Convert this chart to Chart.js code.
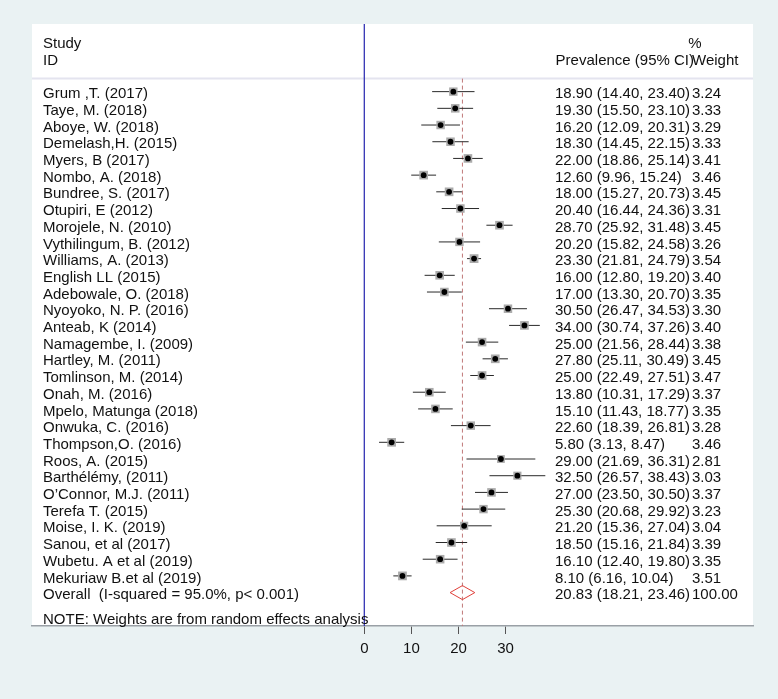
<!DOCTYPE html>
<html>
<head>
<meta charset="utf-8">
<script src="https://cdn.jsdelivr.net/npm/chart.js@4/dist/chart.umd.min.js"></script>
<style>
html,body{margin:0;padding:0;background:#eaf2f3;}
#wrap{width:778px;height:699px;}
</style>
</head>
<body>
<div id="wrap"><canvas id="c" width="778" height="699"></canvas></div>
<script>
const studies = ["Grum ,T. (2017)","Taye, M. (2018)","Aboye, W. (2018)","Demelash,H. (2015)","Myers, B (2017)","Nombo, A. (2018)","Bundree, S. (2017)","Otupiri, E (2012)","Morojele, N. (2010)","Vythilingum, B. (2012)","Williams, A. (2013)","English LL (2015)","Adebowale, O. (2018)","Nyoyoko, N. P. (2016)","Anteab, K (2014)","Namagembe, I. (2009)","Hartley, M. (2011)","Tomlinson, M. (2014)","Onah, M. (2016)","Mpelo, Matunga (2018)","Onwuka, C. (2016)","Thompson,O. (2016)","Roos, A. (2015)","Barthélémy, (2011)","O\u2019Connor, M.J. (2011)","Terefa T. (2015)","Moise, I. K. (2019)","Sanou, et al (2017)","Wubetu. A et al (2019)","Mekuriaw B.et al (2019)"];
const estimates = [18.90,19.30,16.20,18.30,22.00,12.60,18.00,20.40,28.70,20.20,23.30,16.00,17.00,30.50,34.00,25.00,27.80,25.00,13.80,15.10,22.60,5.80,29.00,32.50,27.00,25.30,21.20,18.50,16.10,8.10];
const lower = [14.40,15.50,12.09,14.45,18.86,9.96,15.27,16.44,25.92,15.82,21.81,12.80,13.30,26.47,30.74,21.56,25.11,22.49,10.31,11.43,18.39,3.13,21.69,26.57,23.50,20.68,15.36,15.16,12.40,6.16];
const upper = [23.40,23.10,20.31,22.15,25.14,15.24,20.73,24.36,31.48,24.58,24.79,19.20,20.70,34.53,37.26,28.44,30.49,27.51,17.29,18.77,26.81,8.47,36.31,38.43,30.50,29.92,27.04,21.84,19.80,10.04];
const weights = [3.24,3.33,3.29,3.33,3.41,3.46,3.45,3.31,3.45,3.26,3.54,3.40,3.35,3.30,3.40,3.38,3.45,3.47,3.37,3.35,3.28,3.46,2.81,3.03,3.37,3.23,3.04,3.39,3.35,3.51];
const overallLabel = "Overall  (I-squared = 95.0%, p< 0.001)";
const overallEst = 20.83, overallLo = 18.21, overallHi = 23.46, overallWeight = 100.00;
const xTicks = [0,10,20,30];
const headerLeft = ["Study","ID"];
const headerRight = ["%","Prevalence (95% CI)","Weight"];
const noteText = "NOTE: Weights are from random effects analysis";

const FONT = '15px "Liberation Sans", Arial, sans-serif';
const nRows = studies.length;           // overall row index = nRows
const rows = studies.map((s,i)=>i);

const ciDatasets = rows.map(i => ({
  type:'scatter', showLine:true, data:[{x:lower[i],y:i},{x:upper[i],y:i}],
  borderColor:'#2a2a2a', borderWidth:1, pointRadius:0, order:8
}));

const datasets = [
  { type:'scatter', showLine:true, data:[{x:0,y:-4.1},{x:0,y:32.1}], borderColor:'#3535b5', borderWidth:1.3, pointRadius:0, order:10 },
  { type:'scatter', showLine:true, data:[{x:overallEst,y:-0.78},{x:overallEst,y:32.1}], borderColor:'#c07878', borderWidth:1, borderDash:[4,3], pointRadius:0, order:9 },
  ...ciDatasets,
  { type:'scatter', data: rows.map(i=>({x:estimates[i],y:i})), pointStyle:'rect',
    pointRadius: rows.map(i=>3.3*Math.sqrt(weights[i])), backgroundColor:'#ababab', borderWidth:0, order:7 },
  { type:'scatter', data: rows.map(i=>({x:estimates[i],y:i})), pointStyle:'circle',
    pointRadius:2.9, backgroundColor:'#000', borderWidth:0, order:6 },
  { type:'scatter', showLine:true, data:[{x:overallLo,y:nRows},{x:overallEst,y:nRows-0.42},{x:overallHi,y:nRows},{x:overallEst,y:nRows+0.42},{x:overallLo,y:nRows}],
    borderColor:'#e0403a', borderWidth:1, pointRadius:0, fill:false, order:5 }
];

const bgPlugin = {
  id:'bg',
  beforeDraw(chart){
    const {ctx, chartArea:a, scales:{y}} = chart;
    ctx.save();
    ctx.fillStyle = '#eaf2f3';
    ctx.fillRect(0,0,chart.width,chart.height);
    ctx.fillStyle = '#ffffff';
    ctx.fillRect(a.left,a.top,a.right-a.left,a.bottom-a.top);
    const sy = y.getPixelForValue(-0.78);
    ctx.strokeStyle = '#e4e4ef';
    ctx.lineWidth = 2;
    ctx.beginPath(); ctx.moveTo(a.left,sy); ctx.lineTo(a.right,sy); ctx.stroke();
    ctx.restore();
  }
};

const textPlugin = {
  id:'texts',
  afterDraw(chart){
    const {ctx, chartArea:a, scales:{y}} = chart;
    const off = 2.5;
    const xL = a.left + 11, xCI = 555, xW = 692;
    ctx.save();
    ctx.font = FONT;
    ctx.fillStyle = '#111';
    ctx.textBaseline = 'middle';
    ctx.textAlign = 'left';
    ctx.fillText(headerLeft[0], xL, y.getPixelForValue(-3)+off);
    ctx.fillText(headerLeft[1], xL, y.getPixelForValue(-2)+off);
    ctx.textAlign = 'center';
    ctx.fillText(headerRight[0], 695, y.getPixelForValue(-3)+off);
    ctx.textAlign = 'right';
    ctx.fillText(headerRight[1], 694, y.getPixelForValue(-2)+off);
    ctx.textAlign = 'left';
    ctx.fillText(headerRight[2], xW, y.getPixelForValue(-2)+off);
    rows.forEach(i=>{
      const py = y.getPixelForValue(i)+off;
      ctx.fillText(studies[i], xL, py);
      ctx.fillText(estimates[i].toFixed(2)+' ('+lower[i].toFixed(2)+', '+upper[i].toFixed(2)+')', xCI, py);
      ctx.fillText(weights[i].toFixed(2), xW, py);
    });
    const po = y.getPixelForValue(nRows)+off;
    ctx.fillText(overallLabel, xL, po);
    ctx.fillText(overallEst.toFixed(2)+' ('+overallLo.toFixed(2)+', '+overallHi.toFixed(2)+')', xCI, po);
    ctx.fillText(overallWeight.toFixed(2), xW, po);
    ctx.fillText(noteText, xL, y.getPixelForValue(31.5)+off);
    ctx.restore();
  }
};

new Chart(document.getElementById('c'), {
  type:'scatter',
  data:{ datasets },
  options:{
    responsive:false, animation:false, devicePixelRatio:1,
    layout:{ padding:{ left:32, right:25, top:24, bottom:0 } },
    plugins:{ legend:{display:false}, tooltip:{enabled:false} },
    scales:{
      x:{
        type:'linear', min:-70.55, max:82.52,
        afterBuildTicks(scale){ scale.ticks = xTicks.map(v=>({value:v})); },
        afterFit(scale){ scale.height = 73; },
        grid:{ drawOnChartArea:false, drawTicks:true, tickLength:8, color:'#555', lineWidth:1 },
        border:{ display:true, color:'#9aa0a6', width:1.5 },
        ticks:{ font:{ family:'"Liberation Sans", Arial, sans-serif', size:15 }, color:'#111', padding:6, maxRotation:0, autoSkip:false, callback:v=>String(v) }
      },
      y:{ type:'linear', reverse:true, min:-4.05, max:32.0, display:false }
    }
  },
  plugins:[bgPlugin, textPlugin]
});
</script>
</body>
</html>
